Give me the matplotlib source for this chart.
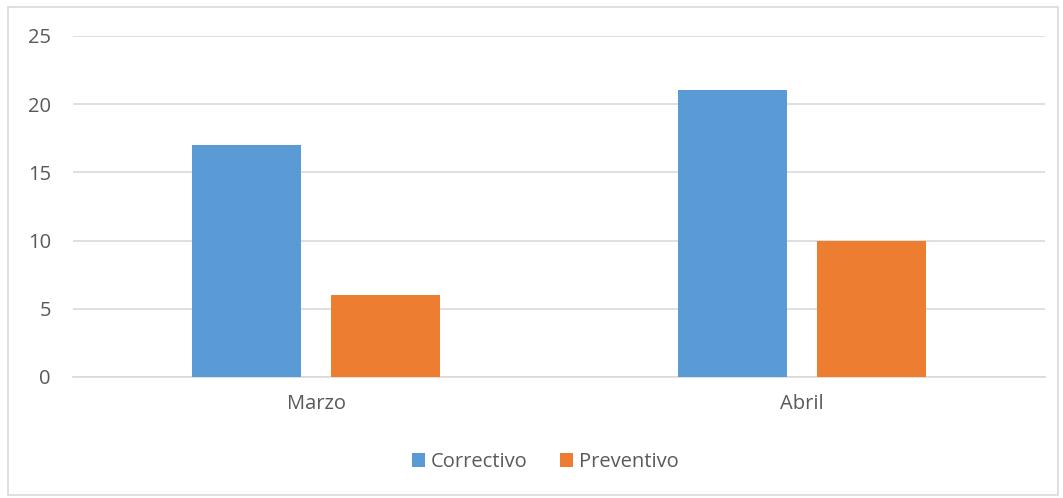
import numpy as np
import matplotlib.pyplot as plt
from matplotlib.patches import Rectangle

meses = ["Marzo", "Abril"]
correctivo = [17, 21]
preventivo = [6, 10]
series = ["Correctivo", "Preventivo"]
colores = ["#5B9BD5", "#ED7D31"]

plt.rcParams["font.family"] = ["Open Sans", "DejaVu Sans"]
texto = "#595959"

fig = plt.figure(figsize=(10.63, 4.98), dpi=100)
ax = fig.add_axes([0.0687, 0.243, 0.9143, 0.685])

x = np.arange(len(meses))
ancho = 0.224
sep = 0.143
b1 = ax.bar(x - sep, correctivo, ancho, color=colores[0], label=series[0], zorder=3)
b2 = ax.bar(x + sep, preventivo, ancho, color=colores[1], label=series[1], zorder=3)

ax.set_xlim(-0.5, len(meses) - 0.5)
ax.set_ylim(0, 25)
ax.set_yticks(range(0, 26, 5))
ax.set_xticks(x)
ax.set_xticklabels(meses)
ax.grid(axis="y", color="#d9d9d9", linewidth=1.2, zorder=0)
for s in ["top", "right", "left"]:
    ax.spines[s].set_visible(False)
ax.spines["bottom"].set_color("#d9d9d9")
ax.spines["bottom"].set_linewidth(1.2)
ax.tick_params(axis="both", length=0, labelsize=14.5, colors=texto)
ax.tick_params(axis="y", pad=16)
ax.tick_params(axis="x", pad=12)

leg = fig.legend(handles=[b1, b2], loc="center", bbox_to_anchor=(0.513, 0.072), ncol=2,
                 frameon=False, fontsize=14.5, handlelength=0.65, handleheight=0.65,
                 handletextpad=0.3, columnspacing=1.6)
for t in leg.get_texts():
    t.set_color(texto)

# chart border
fig.patches.append(Rectangle((0.0075, 0.006), 0.988, 0.98, transform=fig.transFigure,
                             fill=False, edgecolor="#d9d9d9", linewidth=1.2))

fig.savefig("out.png", dpi=100)
